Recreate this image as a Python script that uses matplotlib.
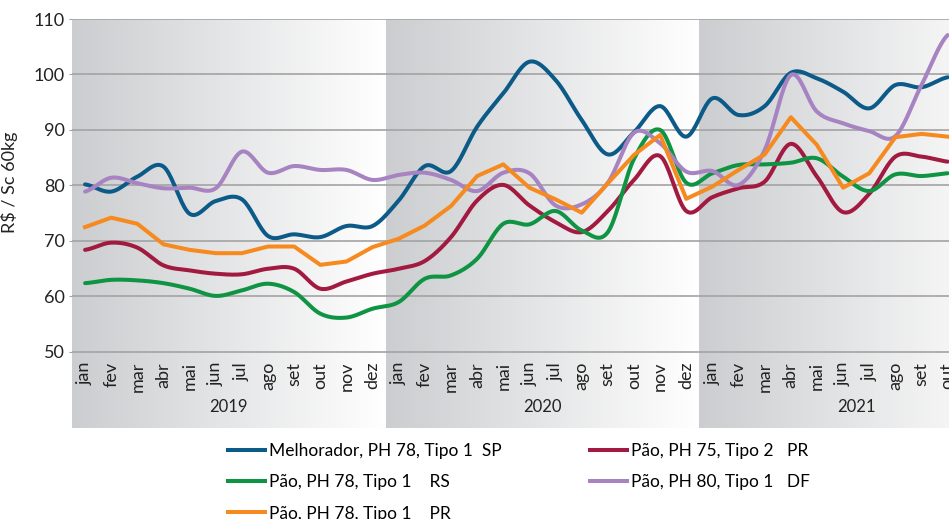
import numpy as np
import matplotlib
matplotlib.use("Agg")
import matplotlib.pyplot as plt
from matplotlib.lines import Line2D

plt.rcParams['font.family'] = ['Lato', 'DejaVu Sans']

# Data (R$ / saca 60kg), jan/2019 .. out/2021
months = ['jan', 'fev', 'mar', 'abr', 'mai', 'jun', 'jul', 'ago', 'set', 'out', 'nov', 'dez']
years = ['2019', '2020', '2021']

melhorador_sp = [80.2, 78.9, 81.6, 83.4, 74.9, 77.2, 77.5, 70.9, 71.2, 70.7, 72.7, 72.7,
                 77.3, 83.5, 82.6, 90.6, 96.6, 102.3, 99.0, 91.8, 85.6, 89.6, 94.3, 88.8,
                 95.7, 92.7, 94.3, 100.3, 99.3, 96.9, 93.9, 98.1, 97.7, 99.5]
pao75_pr = [68.4, 69.7, 68.8, 65.6, 64.7, 64.1, 64.0, 65.0, 65.0, 61.4, 62.7, 64.1,
            65.0, 66.4, 70.7, 77.3, 80.1, 76.4, 73.4, 71.6, 75.4, 81.0, 85.3, 75.4,
            77.9, 79.5, 80.7, 87.5, 81.6, 75.2, 78.5, 85.2, 85.2, 84.3]
pao78_rs = [62.4, 63.0, 62.9, 62.4, 61.4, 60.1, 61.1, 62.3, 60.8, 56.9, 56.2, 57.8,
            59.0, 63.2, 63.8, 66.8, 73.1, 73.0, 75.4, 71.9, 71.6, 84.8, 90.0, 80.5,
            82.2, 83.7, 83.8, 84.1, 84.9, 81.6, 79.0, 82.0, 81.7, 82.2]
pao80_df = [78.9, 81.4, 80.4, 79.5, 79.6, 79.5, 86.1, 82.3, 83.5, 82.8, 82.8, 81.0,
            81.9, 82.3, 81.0, 79.0, 82.3, 82.2, 76.4, 76.6, 80.5, 89.5, 87.6, 82.5,
            82.6, 80.1, 86.4, 99.9, 93.3, 91.2, 89.8, 88.9, 98.1, 107.1]
pao78_pr = [72.5, 74.2, 73.1, 69.4, 68.4, 67.8, 67.8, 69.0, 69.0, 65.7, 66.3, 68.9,
            70.4, 72.8, 76.3, 81.7, 83.8, 79.6, 77.5, 75.1, 80.4, 85.5, 89.1, 77.6,
            79.8, 82.8, 85.6, 92.3, 87.3, 79.6, 82.2, 88.7, 89.3, 88.8]


def smooth(y, n=20):
    # bezier smoothing like the "smoothed line" option of spreadsheets
    y = np.asarray(y, float)
    p = np.concatenate([[y[0]], y, [y[-1]]])
    t = np.linspace(0, 1, n, endpoint=False)
    xs, ys = [], []
    for i in range(len(y) - 1):
        p0, p1, p2, p3 = p[i], p[i + 1], p[i + 2], p[i + 3]
        c1 = p1 + (p2 - p0) / 6
        c2 = p2 - (p3 - p1) / 6
        b = (1 - t) ** 3 * p1 + 3 * (1 - t) ** 2 * t * c1 + 3 * (1 - t) * t ** 2 * c2 + t ** 3 * p2
        xs.append(i + t)
        ys.append(b)
    xs.append([len(y) - 1])
    ys.append([y[-1]])
    return np.concatenate(xs), np.concatenate(ys)


fig = plt.figure(figsize=(9.49, 5.19), dpi=100)
ax = fig.add_axes([72 / 949, 91 / 519, 941 / 949, 409 / 519])

ymin, ymax = 36.3, 110
ax.set_xlim(-0.5, 35.5)
ax.set_ylim(ymin, ymax)

# gradient background for each year
grad = np.linspace(0, 1, 256)
c0 = np.array([0.80, 0.805, 0.815])
c1 = np.array([1.0, 1.0, 1.0])
img = (c0[None, :] * (1 - grad[:, None]) + c1[None, :] * grad[:, None])[None, :, :]
for k in range(len(years)):
    ax.imshow(img, extent=[-0.5 + 12 * k, 11.5 + 12 * k, ymin, ymax],
              aspect='auto', zorder=0, interpolation='bilinear')

for v in range(50, 111, 10):
    ax.axhline(v, color='#a3a3a3', lw=1.2, zorder=1)

lw = 2.9
x = np.arange(len(melhorador_sp))
sx, sy = smooth(melhorador_sp)
ax.plot(sx, sy, color='#0c5a88', lw=lw, zorder=3, solid_capstyle='round')
sx, sy = smooth(pao75_pr)
ax.plot(sx, sy, color='#a21a40', lw=lw, zorder=3, solid_capstyle='round')
sx, sy = smooth(pao78_rs)
ax.plot(sx, sy, color='#0f9444', lw=lw, zorder=3, solid_capstyle='round')
sx, sy = smooth(pao80_df)
ax.plot(sx, sy, color='#a783c2', lw=lw, zorder=3, solid_capstyle='round')
ax.plot(x, pao78_pr, color='#f68a1f', lw=lw, zorder=4)

# month and year labels below the plot area
for i in range(36):
    ax.text(i, 48.2, months[i % 12], rotation=90, ha='center', va='top',
            fontsize=13, color='#222222')
for k, yr in enumerate(years):
    ax.text(5.5 + 12 * k, 40.1, yr, ha='center', va='center', fontsize=12, color='#222222')

ax.set_yticks(range(50, 111, 10))
ax.set_xticks([])
ax.tick_params(axis='y', length=2, color='#a3a3a3', labelsize=13, pad=3, labelcolor='#222222')
for s in ax.spines.values():
    s.set_visible(False)
ax.set_ylabel('R$ / Sc 60kg', fontsize=13, color='#222222')
ax.yaxis.set_label_coords(-0.057, 0.60)

# legend: two blocks placed side by side
left_handles = [
    Line2D([], [], color='#0c5a88', lw=lw, label='Melhorador, PH 78, Tipo 1  SP'),
    Line2D([], [], color='#0f9444', lw=lw, label='Pão, PH 78, Tipo 1    RS'),
    Line2D([], [], color='#f68a1f', lw=lw, label='Pão, PH 78, Tipo 1    PR'),
]
right_handles = [
    Line2D([], [], color='#a21a40', lw=lw, label='Pão, PH 75, Tipo 2   PR'),
    Line2D([], [], color='#a783c2', lw=lw, label='Pão, PH 80, Tipo 1   DF'),
]
leg_kw = dict(loc='upper left', frameon=False, fontsize=12.5, handlelength=2.13,
              handletextpad=0.23, labelspacing=0.88, borderpad=0, borderaxespad=0)
fig.legend(handles=left_handles, bbox_to_anchor=(228 / 949, 1 - 443 / 519), **leg_kw)
fig.legend(handles=right_handles, bbox_to_anchor=(590 / 949, 1 - 443 / 519), **leg_kw)

fig.savefig('out.png', dpi=100)
